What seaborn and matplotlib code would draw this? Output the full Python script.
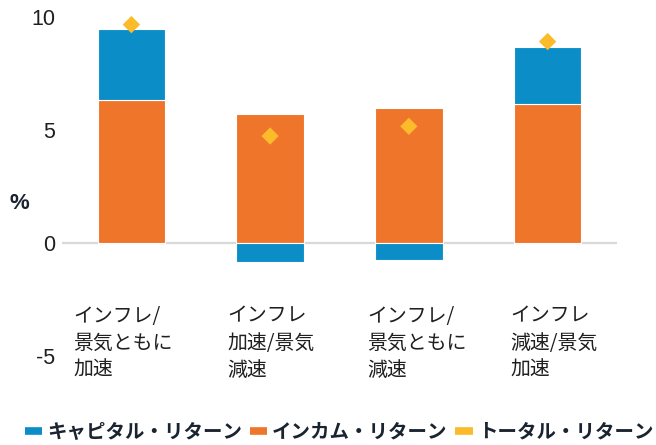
import matplotlib
matplotlib.use("Agg")
import matplotlib.pyplot as plt
import matplotlib.transforms as mtransforms
from matplotlib.lines import Line2D
import seaborn as sns
import pandas as pd

# ---- data ----
categories = ["インフレ/\n景気ともに\n加速", "インフレ\n加速/景気\n減速",
              "インフレ/\n景気ともに\n減速", "インフレ\n減速/景気\n加速"]
income_return = [6.3, 5.7, 5.95, 6.15]
capital_return = [3.15, -0.85, -0.77, 2.5]
total_return = [9.65, 4.72, 5.15, 8.9]
y_ticks = [-5, 0, 5, 10]
legend_labels = ["キャピタル・リターン", "インカム・リターン", "トータル・リターン"]

BLUE = "#0B8EC8"
ORANGE = "#EE752A"
YELLOW = "#FBBB2A"
TEXT = "#1F1F1F"
LEG = "#1A2330"

sns.set_style("white")
plt.rcParams["font.family"] = ["Noto Sans CJK JP", "DejaVu Sans"]

df = pd.DataFrame({"cat": categories, "income": income_return,
                   "capital": capital_return, "total": total_return})
cap_bottom = [inc if cap > 0 else 0 for inc, cap in zip(income_return, capital_return)]

W, H = 656, 445
fig = plt.figure(figsize=(W / 100, H / 100), dpi=100)
ax_left, ax_right = 62, 617
ax_top, ax_bot = 16.7, 355.7
ax = fig.add_axes([ax_left / W, 1 - ax_bot / H, (ax_right - ax_left) / W, (ax_bot - ax_top) / H])

ax.axhline(0, color="#D9D9D9", lw=1.6, zorder=1)
sns.barplot(data=df, x="cat", y="income", order=categories, color=ORANGE,
            saturation=1, width=0.485, edgecolor="white", linewidth=0.8,
            ax=ax, zorder=2)
sns.barplot(data=df, x="cat", y="capital", order=categories, color=BLUE,
            saturation=1, width=0.485, edgecolor="white", linewidth=0.8,
            bottom=cap_bottom, ax=ax, zorder=2)
sns.scatterplot(data=df, x="cat", y="total", marker="D", s=78, color=YELLOW,
                edgecolor="none", ax=ax, zorder=3, clip_on=False)

ax.set_xlim(-0.5, 3.5)
ax.set_ylim(-5, 10)
ax.set_yticks(y_ticks)
ax.set_yticklabels([str(t) for t in y_ticks], family=["Liberation Sans", "DejaVu Sans"],
                   fontsize=15.5, color=TEXT)
ax.set_xticks(range(len(categories)))
ax.set_xticklabels(categories, fontsize=14.3, color=TEXT, ha="left",
                   va="top", linespacing=1.38)
ax.tick_params(axis="y", length=0, pad=5)
ax.tick_params(axis="x", length=0, pad=-36)
ax.set_xlabel("")
ax.set_ylabel("")
for s in ax.spines.values():
    s.set_visible(False)

# shift category labels horizontally (px offsets from bar centres)
label_dx = [-58, -43, -42, -37]
for lbl, dx in zip(ax.get_xticklabels(), label_dx):
    lbl.set_transform(lbl.get_transform() +
                      mtransforms.ScaledTranslation(dx / 100, 0, fig.dpi_scale_trans))

fig.text(19 / W, 1 - 203 / H, "%", ha="center", va="center", fontsize=16,
         fontweight="bold", color=LEG, family=["Liberation Sans", "DejaVu Sans"])

handles = [Line2D([0], [0], color=c, lw=5.5, solid_capstyle="butt")
           for c in (BLUE, ORANGE, YELLOW)]
leg = fig.legend(handles, legend_labels, loc="center", bbox_to_anchor=(339 / W, 1 - 432 / H),
                 ncol=3, frameon=False, handlelength=0.9, handletextpad=0.25,
                 columnspacing=0.4, borderpad=0, borderaxespad=0,
                 prop={"family": ["Noto Sans CJK JP", "DejaVu Sans"], "weight": "bold", "size": 14})
for t in leg.get_texts():
    t.set_color(LEG)

fig.savefig("out.png", dpi=100)
